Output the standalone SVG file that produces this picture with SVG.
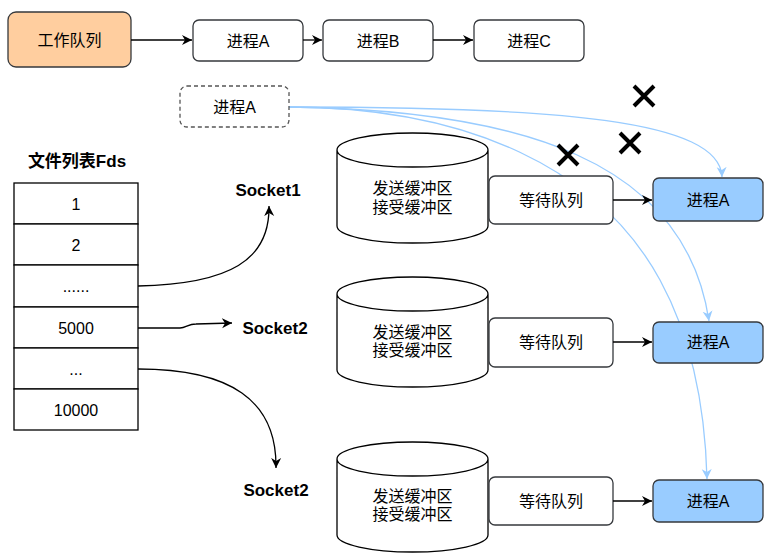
<svg xmlns="http://www.w3.org/2000/svg" width="776" height="554" viewBox="0 0 776 554">
<style>
text{font-family:"Liberation Sans","Noto Sans CJK SC",sans-serif;font-size:16px;fill:#000;text-anchor:middle;dominant-baseline:central}
.b{font-weight:bold;font-size:17px}
.box{fill:#fff;stroke:#36393d;stroke-width:1.3}
.orange{fill:#FFCE9F;stroke:#36393d;stroke-width:1.3}
.blue{fill:#99CCFF;stroke:#36393d;stroke-width:1.3}
.dash{fill:#fff;stroke:#555;stroke-width:1.3;stroke-dasharray:4 3}
.cell{fill:#fff;stroke:#000;stroke-width:1.3}
.cyl{fill:#fff;stroke:#000;stroke-width:1.3}
.e{fill:none;stroke:#000;stroke-width:1.3;marker-end:url(#ab)}
.l{fill:none;stroke:#99CCFF;stroke-width:1.3;marker-end:url(#al)}
.x{stroke:#000;stroke-width:4;stroke-linecap:butt}
</style>
<defs>
<marker id="ab" markerUnits="userSpaceOnUse" markerWidth="12" markerHeight="12" refX="10" refY="5" orient="auto" viewBox="0 0 12 10">
<path d="M0,0 L10,5 L0,10 L3,5 Z" fill="#000"/>
</marker>
<marker id="al" markerUnits="userSpaceOnUse" markerWidth="12" markerHeight="12" refX="10" refY="5" orient="auto" viewBox="0 0 12 10">
<path d="M0,0 L10,5 L0,10 L3,5 Z" fill="#99CCFF"/>
</marker>
</defs>

<g id="edges-blue">
<path class="l" d="M289,107 C560,107 720,120 722,177"/>
<path class="l" d="M289,107 C520,110 685,160 709,321"/>
<path class="l" d="M289,107 C470,107 600,170 660,280 C690,335 705,400 707,479"/>
</g>

<g id="work-queue"><rect class="orange" x="8" y="12" width="123" height="55" rx="8"/><text x="69.5" y="40">工作队列</text></g>
<g id="top-procA"><rect class="box" x="193" y="20" width="110" height="41" rx="6"/><text x="248" y="41">进程A</text></g>
<g id="top-procB"><rect class="box" x="323" y="20" width="110" height="41" rx="6"/><text x="378" y="41">进程B</text></g>
<g id="top-procC"><rect class="box" x="474" y="20" width="110" height="41" rx="6"/><text x="529" y="41">进程C</text></g>
<g id="dashed-procA"><rect class="dash" x="180" y="86" width="109" height="41" rx="7"/><text x="234.5" y="107">进程A</text></g>

<g id="fds-title"><text class="b" x="77" y="161">文件列表Fds</text></g>
<g id="fds-table">
<rect class="cell" x="14" y="183" width="124" height="41"/><text x="76" y="204">1</text>
<rect class="cell" x="14" y="224" width="124" height="41"/><text x="76" y="245">2</text>
<rect class="cell" x="14" y="265" width="124" height="42"/><text x="76" y="286">......</text>
<rect class="cell" x="14" y="307" width="124" height="41"/><text x="76" y="328">5000</text>
<rect class="cell" x="14" y="348" width="124" height="41"/><text x="76" y="369">...</text>
<rect class="cell" x="14" y="389" width="124" height="41"/><text x="76" y="410">10000</text>
</g>

<g id="socket1"><text class="b" x="268" y="190">Socket1</text></g>
<g id="socket2a"><text class="b" x="275" y="328">Socket2</text></g>
<g id="socket2b"><text class="b" x="276" y="490">Socket2</text></g>

<g id="buf1"><path class="cyl" d="M337,150 A75.5,17 0 0 1 488,150 L488,226 A75.5,17 0 0 1 337,226 Z M337,150 A75.5,17 0 0 0 488,150"/><text x="412.5" y="188">发送缓冲区</text><text x="412.5" y="207">接受缓冲区</text></g>
<g id="buf2"><path class="cyl" d="M337,294 A75.5,17 0 0 1 488,294 L488,370 A75.5,17 0 0 1 337,370 Z M337,294 A75.5,17 0 0 0 488,294"/><text x="412.5" y="332">发送缓冲区</text><text x="412.5" y="350">接受缓冲区</text></g>
<g id="buf3"><path class="cyl" d="M337,459 A75.5,17 0 0 1 488,459 L488,535 A75.5,17 0 0 1 337,535 Z M337,459 A75.5,17 0 0 0 488,459"/><text x="412.5" y="496">发送缓冲区</text><text x="412.5" y="514">接受缓冲区</text></g>

<g id="wait1"><rect class="box" x="489" y="176" width="124" height="48" rx="6"/><text x="551" y="200">等待队列</text></g>
<g id="wait2"><rect class="box" x="489" y="318" width="124" height="49" rx="6"/><text x="551" y="342">等待队列</text></g>
<g id="wait3"><rect class="box" x="489" y="477" width="124" height="48" rx="6"/><text x="551" y="501">等待队列</text></g>

<g id="procA1"><rect class="blue" x="653" y="178" width="110" height="43" rx="6"/><text x="708" y="200">进程A</text></g>
<g id="procA2"><rect class="blue" x="653" y="322" width="110" height="41" rx="6"/><text x="708" y="342">进程A</text></g>
<g id="procA3"><rect class="blue" x="653" y="480" width="110" height="42" rx="6"/><text x="708" y="501">进程A</text></g>

<g id="edges">
<path class="e" d="M131,40 L192,40"/>
<path class="e" d="M303,40 L322,40"/>
<path class="e" d="M433,40 L473,40"/>
<path class="e" d="M138,286 C230,284 270,260 269,206"/>
<path class="e" d="M138,328 L180,328 C186,328 188,324 196,324 L232,323"/>
<path class="e" d="M138,369 C230,369 277,400 276,468"/>
<path class="e" d="M613,200 L652,200"/>
<path class="e" d="M613,342 L652,342"/>
<path class="e" d="M613,501 L652,501"/>
</g>

<g id="crosses">
<path class="x" d="M634,86 L654,106 M654,86 L634,106"/>
<path class="x" d="M620,133 L640,153 M640,133 L620,153"/>
<path class="x" d="M558,145 L578,165 M578,145 L558,165"/>
</g>
</svg>
